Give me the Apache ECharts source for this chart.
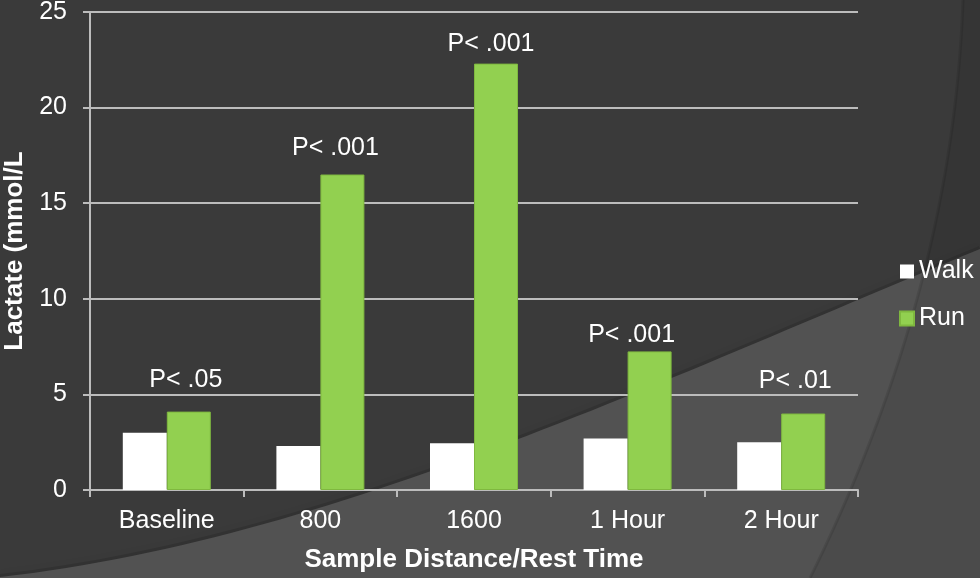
<!DOCTYPE html>
<html>
<head>
<meta charset="utf-8">
<title>Lactate: Walk vs Run</title>
<script src="https://cdn.jsdelivr.net/npm/echarts@6/dist/echarts.min.js"></script>
<style>
  html, body { margin: 0; padding: 0; background: #3a3a3a; }
  #chart { width: 980px; height: 578px; }
</style>
</head>
<body>
<div id="chart"></div>
<script>
// Sample points along the protocol
const categories = ['Baseline', '800', '1600', '1 Hour', '2 Hour'];
// Blood lactate, mmol/L
const walkValues = [3.0, 2.3, 2.45, 2.7, 2.5];
const runValues = [4.1, 16.5, 22.3, 7.25, 4.0];
// Significance of walk vs run at each point
const pLabels = ['P< .05', 'P< .001', 'P< .001', 'P< .001', 'P< .01'];
// Y axis range
const yTicks = { min: 0, max: 25, step: 5 };

// Placement of each significance note relative to its bar top
const pLabelOffsets = [[-3, -19], [-7, -14], [-5, -7], [-18, -4], [-8, -20]];

const FONT = "'Liberation Sans', Arial, sans-serif";
const AXIS_GREY = '#bcbcbc';

// Sample a cubic Bezier into polygon points for the backdrop shapes
function cubicPoints(p0, p1, p2, p3, n) {
  const pts = [];
  for (let k = 0; k <= n; k++) {
    const t = k / n, u = 1 - t;
    pts.push([
      u * u * u * p0[0] + 3 * u * u * t * p1[0] + 3 * u * t * t * p2[0] + t * t * t * p3[0],
      u * u * u * p0[1] + 3 * u * u * t * p1[1] + 3 * u * t * t * p2[1] + t * t * t * p3[1]
    ]);
  }
  return pts;
}
function quadPoints(p0, p1, p2, n) {
  const pts = [];
  for (let k = 0; k <= n; k++) {
    const t = k / n, u = 1 - t;
    pts.push([
      u * u * p0[0] + 2 * u * t * p1[0] + t * t * p2[0],
      u * u * p0[1] + 2 * u * t * p1[1] + t * t * p2[1]
    ]);
  }
  return pts;
}

const sweepEdge = cubicPoints([0, 577], [330, 540], [660, 380], [980, 249], 60);
const sweepPts = sweepEdge.concat([[980, 578], [0, 578]]);
const bandEdge = quadPoints([963, 0], [953, 289], [810, 578], 60);
const bandPts = bandEdge.concat([[980, 578], [980, 0]]);

const chart = echarts.init(document.getElementById('chart'), null, { renderer: 'canvas' });

const option = {
  backgroundColor: '#3a3a3a',
  animation: false,
  textStyle: { fontFamily: FONT },
  graphic: [
    {
      // soft shadow riding above the sweep edge
      type: 'polyline',
      z: -101,
      silent: true,
      shape: { points: sweepEdge },
      style: { stroke: 'rgba(0,0,0,0.12)', lineWidth: 6, fill: null, shadowBlur: 10, shadowColor: 'rgba(0,0,0,0.25)' }
    },
    {
      // lighter sweep across the lower right
      type: 'polygon',
      z: -100,
      silent: true,
      shape: { points: sweepPts },
      style: { fill: '#525252' }
    },
    {
      // curved band along the right edge
      type: 'polygon',
      z: -99,
      silent: true,
      shape: { points: bandPts },
      style: { fill: 'rgba(0,0,0,0.08)' }
    },
    {
      type: 'polyline',
      z: -98,
      silent: true,
      shape: { points: bandEdge },
      style: { stroke: 'rgba(0,0,0,0.1)', lineWidth: 3, fill: null }
    }
  ],
  grid: { left: 90, right: 122, top: 12, bottom: 88, containLabel: false, outerBoundsMode: 'none' },
  legend: {
    orient: 'vertical',
    left: 899,
    top: 259,
    padding: 0,
    itemWidth: 14,
    itemHeight: 14,
    itemGap: 22,
    icon: 'rect',
    textStyle: { color: '#ffffff', fontSize: 25, lineHeight: 25, fontFamily: FONT },
    data: ['Walk', 'Run']
  },
  xAxis: {
    type: 'category',
    data: categories,
    name: 'Sample Distance/Rest Time',
    nameLocation: 'middle',
    nameGap: 57,
    nameTextStyle: { color: '#ffffff', fontSize: 26, fontWeight: 'bold', fontFamily: FONT },
    axisLine: { lineStyle: { color: AXIS_GREY, width: 2 } },
    axisTick: { show: true, alignWithLabel: false, length: 7, lineStyle: { color: AXIS_GREY, width: 2 } },
    axisLabel: { color: '#ffffff', fontSize: 25, margin: 19, fontFamily: FONT },
    splitLine: { show: false }
  },
  yAxis: {
    type: 'value',
    min: yTicks.min,
    max: yTicks.max,
    interval: yTicks.step,
    name: 'Lactate (mmol/L',
    nameLocation: 'middle',
    nameGap: 56,
    nameTextStyle: { color: '#ffffff', fontSize: 26, fontWeight: 'bold', fontFamily: FONT },
    axisLine: { show: true, lineStyle: { color: AXIS_GREY, width: 2 } },
    axisTick: { show: true, length: 7, lineStyle: { color: AXIS_GREY, width: 2 } },
    axisLabel: { color: '#ffffff', fontSize: 25, margin: 23, fontFamily: FONT },
    splitLine: { show: true, lineStyle: { color: AXIS_GREY, width: 2 } }
  },
  series: [
    {
      name: 'Walk',
      type: 'bar',
      data: walkValues,
      barWidth: 44,
      barGap: '0%',
      itemStyle: { color: '#ffffff' }
    },
    {
      name: 'Run',
      type: 'bar',
      barWidth: 44,
      barGap: '0%',
      itemStyle: { color: '#92d050', borderColor: '#7fb83f', borderWidth: 1 },
      data: runValues.map((v, i) => ({
        value: v,
        label: {
          show: true,
          position: 'top',
          distance: 0,
          offset: pLabelOffsets[i],
          formatter: pLabels[i],
          color: '#ffffff',
          fontSize: 25,
          fontFamily: FONT
        }
      }))
    }
  ]
};

chart.setOption(option);
</script>
</body>
</html>
